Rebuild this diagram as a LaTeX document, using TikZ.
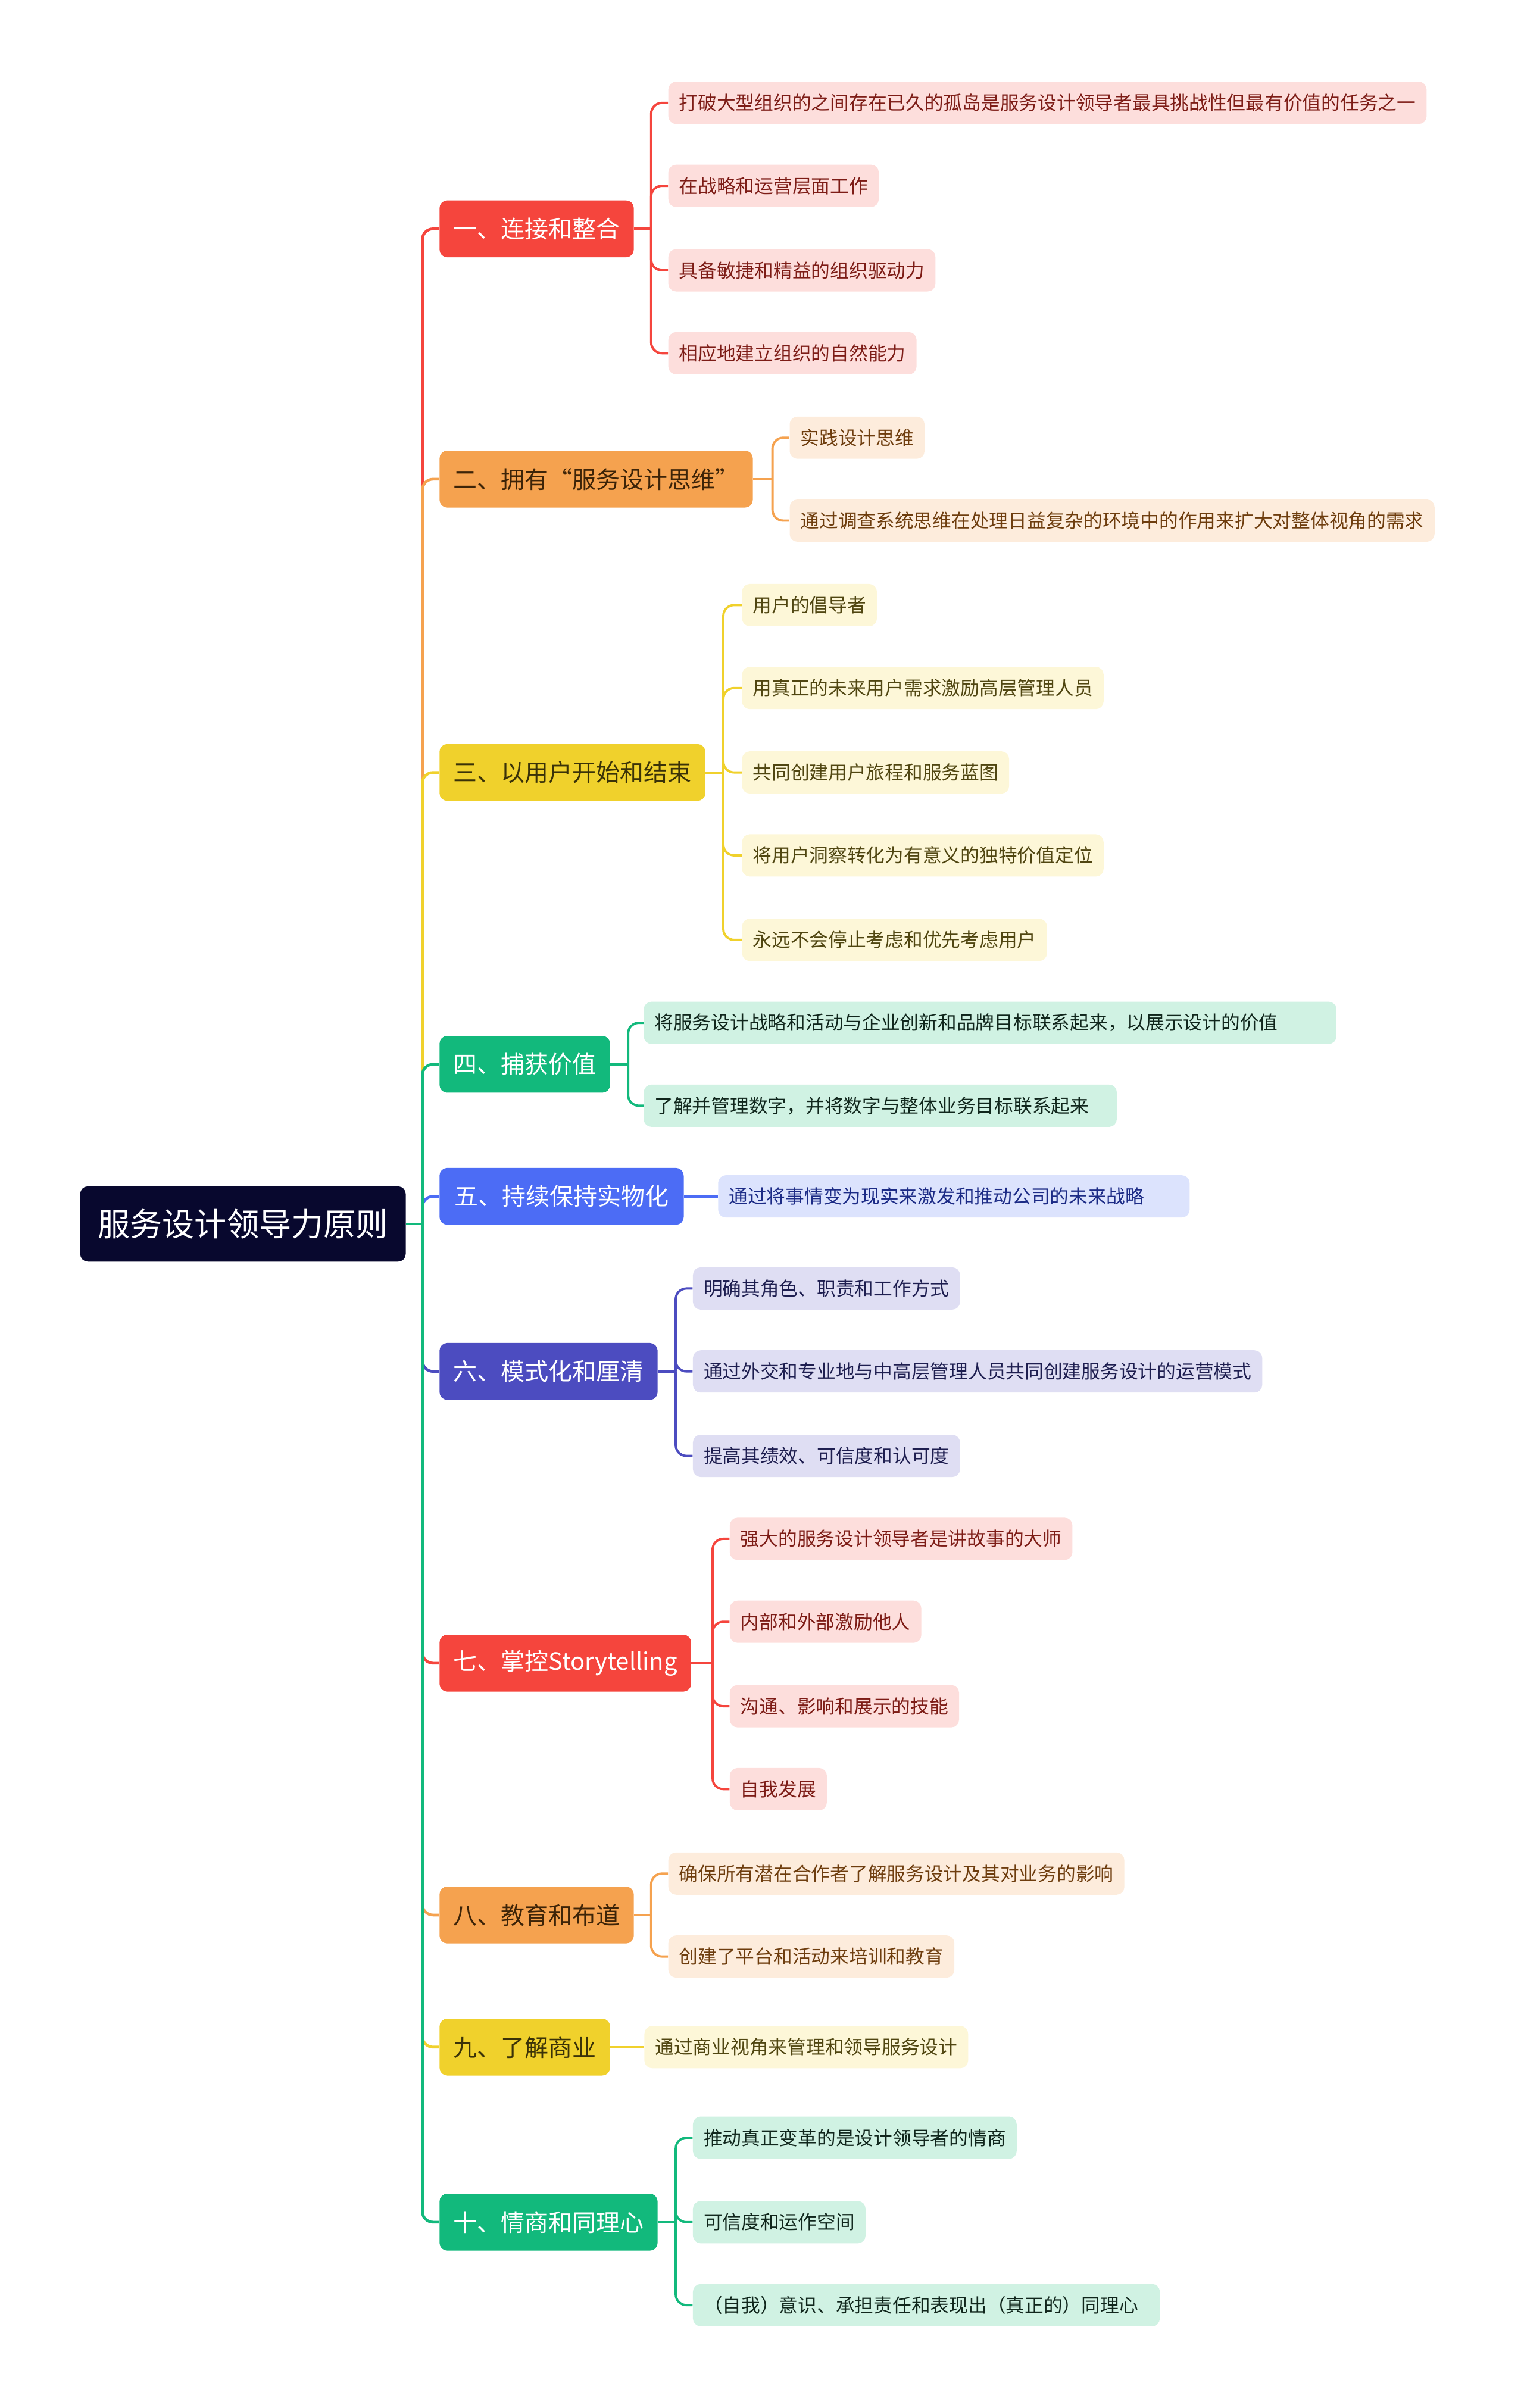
\documentclass[tikz,border=0pt]{standalone}
\usepackage{fontspec}
\setmainfont{Noto Sans CJK SC}
\usepackage{tikz}
\usetikzlibrary{positioning}

\definecolor{mapNavy}{HTML}{08082E}
\definecolor{mapRed}{HTML}{F5453D}
\definecolor{mapOrange}{HTML}{F5A24F}
\definecolor{mapYellow}{HTML}{F0D12C}
\definecolor{mapGreen}{HTML}{12B97C}
\definecolor{mapBlue}{HTML}{4C6CF5}
\definecolor{mapIndigo}{HTML}{4C4CC0}
\definecolor{orangeInk}{HTML}{3D2408}
\definecolor{yellowInk}{HTML}{3A3208}
\definecolor{pinkFill}{HTML}{FDDEDC}
\definecolor{pinkInk}{HTML}{7D1C16}
\definecolor{peachFill}{HTML}{FDECDC}
\definecolor{peachInk}{HTML}{6E3D0E}
\definecolor{creamFill}{HTML}{FDF7D8}
\definecolor{creamInk}{HTML}{504611}
\definecolor{mintFill}{HTML}{D0F2E3}
\definecolor{mintInk}{HTML}{10261C}
\definecolor{skyFill}{HTML}{DCE3FD}
\definecolor{skyInk}{HTML}{1C2B86}
\definecolor{lilacFill}{HTML}{DFDEF3}
\definecolor{lilacInk}{HTML}{1E1E50}

\begin{document}
\begin{tikzpicture}[
        x=1pt, y=-1pt,
        rootBox/.style={
            rectangle, rounded corners=5pt, fill=mapNavy, text=white, anchor=west,
            minimum height=49pt, inner xsep=11.5pt, font=\fontsize{21}{24}\selectfont
        },
        topicBox/.style={
            rectangle, rounded corners=5pt, anchor=west, minimum height=37pt,
            inner xsep=9pt, font=\fontsize{15.5}{18}\selectfont
        },
        leafBox/.style={
            rectangle, rounded corners=5pt, anchor=west, minimum height=27.5pt,
            inner xsep=7pt, font=\fontsize{12.3}{14}\selectfont
        },
        topicLink/.style={line width=1.8pt, rounded corners=7pt},
        leafLink/.style={line width=1.5pt, rounded corners=7pt},
    ]
        \useasboundingbox (0,0) rectangle (992,1568);

        \node (principles) [rootBox] at (52,797) {服务设计领导力原则};
        \coordinate (spine) at (275,797);

        \node (connect) [topicBox,fill=mapRed,text=white] at (286,149) {一、连接和整合};
        \node (thinking) [topicBox,fill=mapOrange,text=orangeInk] at (286,312) {二、拥有“服务设计思维”};
        \node (userFocus) [topicBox,fill=mapYellow,text=yellowInk] at (286,503) {三、以用户开始和结束};
        \node (captureValue) [topicBox,fill=mapGreen,text=white] at (286,693) {四、捕获价值};
        \node (tangible) [topicBox,fill=mapBlue,text=white,minimum width=159pt] at (286,779) {五、持续保持实物化};
        \node (clarify) [topicBox,fill=mapIndigo,text=white] at (286,893) {六、模式化和厘清};
        \node (storytelling) [topicBox,fill=mapRed,text=white] at (286,1083) {七、掌控Storytelling};
        \node (evangelize) [topicBox,fill=mapOrange,text=orangeInk] at (286,1247) {八、教育和布道};
        \node (business) [topicBox,fill=mapYellow,text=yellowInk] at (286,1333) {九、了解商业};
        \node (empathy) [topicBox,fill=mapGreen,text=white] at (286,1447) {十、情商和同理心};

        \draw[topicLink,mapBlue] (spine) |- (tangible.west);
        \draw[topicLink,mapRed] (spine) |- (connect.west);
        \draw[topicLink,mapOrange] (spine) |- (thinking.west);
        \draw[topicLink,mapYellow] (spine) |- (userFocus.west);
        \draw[topicLink,mapGreen] (spine) |- (captureValue.west);
        \draw[topicLink,mapIndigo] (spine) |- (clarify.west);
        \draw[topicLink,mapRed] (spine) |- (storytelling.west);
        \draw[topicLink,mapOrange] (spine) |- (evangelize.west);
        \draw[topicLink,mapYellow] (spine) |- (business.west);
        \draw[topicLink,mapGreen] (spine) |- (empathy.west);
        \draw[topicLink,mapGreen] (principles.east) -- (spine);

        \node (connectSilos) [leafBox,fill=pinkFill,text=pinkInk] at (435,67) {打破大型组织的之间存在已久的孤岛是服务设计领导者最具挑战性但最有价值的任务之一};
        \node (connectLevels) [leafBox,fill=pinkFill,text=pinkInk] at (435,121) {在战略和运营层面工作};
        \node (connectAgile) [leafBox,fill=pinkFill,text=pinkInk] at (435,176) {具备敏捷和精益的组织驱动力};
        \node (connectAbility) [leafBox,fill=pinkFill,text=pinkInk] at (435,230) {相应地建立组织的自然能力};
        \coordinate (connectJoin) at (424,149);
        \draw[leafLink,mapRed] (connect.east) -- (connectJoin);
        \draw[leafLink,mapRed] (connectJoin) |- (connectSilos.west);
        \draw[leafLink,mapRed] (connectJoin) |- (connectLevels.west);
        \draw[leafLink,mapRed] (connectJoin) |- (connectAgile.west);
        \draw[leafLink,mapRed] (connectJoin) |- (connectAbility.west);

        \node (thinkingPractice) [leafBox,fill=peachFill,text=peachInk] at (514,285) {实践设计思维};
        \node (thinkingSystems) [leafBox,fill=peachFill,text=peachInk] at (514,339) {通过调查系统思维在处理日益复杂的环境中的作用来扩大对整体视角的需求};
        \coordinate (thinkingJoin) at (503,312);
        \draw[leafLink,mapOrange] (thinking.east) -- (thinkingJoin);
        \draw[leafLink,mapOrange] (thinkingJoin) |- (thinkingPractice.west);
        \draw[leafLink,mapOrange] (thinkingJoin) |- (thinkingSystems.west);

        \node (userAdvocate) [leafBox,fill=creamFill,text=creamInk] at (483,394) {用户的倡导者};
        \node (userInspire) [leafBox,fill=creamFill,text=creamInk] at (483,448) {用真正的未来用户需求激励高层管理人员};
        \node (userBlueprint) [leafBox,fill=creamFill,text=creamInk] at (483,503) {共同创建用户旅程和服务蓝图};
        \node (userInsight) [leafBox,fill=creamFill,text=creamInk] at (483,557) {将用户洞察转化为有意义的独特价值定位};
        \node (userPriority) [leafBox,fill=creamFill,text=creamInk] at (483,612) {永远不会停止考虑和优先考虑用户};
        \coordinate (userJoin) at (471,503);
        \draw[leafLink,mapYellow] (userFocus.east) -- (userJoin);
        \draw[leafLink,mapYellow] (userJoin) |- (userAdvocate.west);
        \draw[leafLink,mapYellow] (userJoin) |- (userInspire.west);
        \draw[leafLink,mapYellow] (userJoin) |- (userBlueprint.west);
        \draw[leafLink,mapYellow] (userJoin) |- (userInsight.west);
        \draw[leafLink,mapYellow] (userJoin) |- (userPriority.west);

        \node (valueBrand) [leafBox,fill=mintFill,text=mintInk,text width=437pt,align=left] at (419,666) {将服务设计战略和活动与企业创新和品牌目标联系起来，以展示设计的价值};
        \node (valueNumbers) [leafBox,fill=mintFill,text=mintInk,text width=294pt,align=left] at (419,720) {了解并管理数字，并将数字与整体业务目标联系起来};
        \coordinate (valueJoin) at (409,693);
        \draw[leafLink,mapGreen] (captureValue.east) -- (valueJoin);
        \draw[leafLink,mapGreen] (valueJoin) |- (valueBrand.west);
        \draw[leafLink,mapGreen] (valueJoin) |- (valueNumbers.west);

        \node (tangibleFuture) [leafBox,fill=skyFill,text=skyInk,text width=293pt,align=left,right=22pt of tangible] {通过将事情变为现实来激发和推动公司的未来战略};
        \draw[leafLink,mapBlue] (tangible) -- (tangibleFuture);

        \node (clarifyRoles) [leafBox,fill=lilacFill,text=lilacInk] at (451,839) {明确其角色、职责和工作方式};
        \node (clarifyModel) [leafBox,fill=lilacFill,text=lilacInk] at (451,893) {通过外交和专业地与中高层管理人员共同创建服务设计的运营模式};
        \node (clarifyCredit) [leafBox,fill=lilacFill,text=lilacInk] at (451,948) {提高其绩效、可信度和认可度};
        \coordinate (clarifyJoin) at (440,893);
        \draw[leafLink,mapIndigo] (clarify.east) -- (clarifyJoin);
        \draw[leafLink,mapIndigo] (clarifyJoin) |- (clarifyRoles.west);
        \draw[leafLink,mapIndigo] (clarifyJoin) |- (clarifyModel.west);
        \draw[leafLink,mapIndigo] (clarifyJoin) |- (clarifyCredit.west);

        \node (storyMaster) [leafBox,fill=pinkFill,text=pinkInk] at (475,1002) {强大的服务设计领导者是讲故事的大师};
        \node (storyInspire) [leafBox,fill=pinkFill,text=pinkInk] at (475,1056) {内部和外部激励他人};
        \node (storySkills) [leafBox,fill=pinkFill,text=pinkInk] at (475,1111) {沟通、影响和展示的技能};
        \node (storyGrowth) [leafBox,fill=pinkFill,text=pinkInk] at (475,1165) {自我发展};
        \coordinate (storyJoin) at (464,1083);
        \draw[leafLink,mapRed] (storytelling.east) -- (storyJoin);
        \draw[leafLink,mapRed] (storyJoin) |- (storyMaster.west);
        \draw[leafLink,mapRed] (storyJoin) |- (storyInspire.west);
        \draw[leafLink,mapRed] (storyJoin) |- (storySkills.west);
        \draw[leafLink,mapRed] (storyJoin) |- (storyGrowth.west);

        \node (evangelizeImpact) [leafBox,fill=peachFill,text=peachInk] at (435,1220) {确保所有潜在合作者了解服务设计及其对业务的影响};
        \node (evangelizeTraining) [leafBox,fill=peachFill,text=peachInk] at (435,1274) {创建了平台和活动来培训和教育};
        \coordinate (evangelizeJoin) at (424,1247);
        \draw[leafLink,mapOrange] (evangelize.east) -- (evangelizeJoin);
        \draw[leafLink,mapOrange] (evangelizeJoin) |- (evangelizeImpact.west);
        \draw[leafLink,mapOrange] (evangelizeJoin) |- (evangelizeTraining.west);

        \node (businessLens) [leafBox,fill=creamFill,text=creamInk,right=22pt of business] {通过商业视角来管理和领导服务设计};
        \draw[leafLink,mapYellow] (business) -- (businessLens);

        \node (empathyChange) [leafBox,fill=mintFill,text=mintInk] at (451,1392) {推动真正变革的是设计领导者的情商};
        \node (empathySpace) [leafBox,fill=mintFill,text=mintInk] at (451,1447) {可信度和运作空间};
        \node (empathyAware) [leafBox,fill=mintFill,text=mintInk,text width=290pt,align=left] at (451,1501) {（自我）意识、承担责任和表现出（真正的）同理心};
        \coordinate (empathyJoin) at (440,1447);
        \draw[leafLink,mapGreen] (empathy.east) -- (empathyJoin);
        \draw[leafLink,mapGreen] (empathyJoin) |- (empathyChange.west);
        \draw[leafLink,mapGreen] (empathyJoin) |- (empathySpace.west);
        \draw[leafLink,mapGreen] (empathyJoin) |- (empathyAware.west);

    \end{tikzpicture}
\end{document}
